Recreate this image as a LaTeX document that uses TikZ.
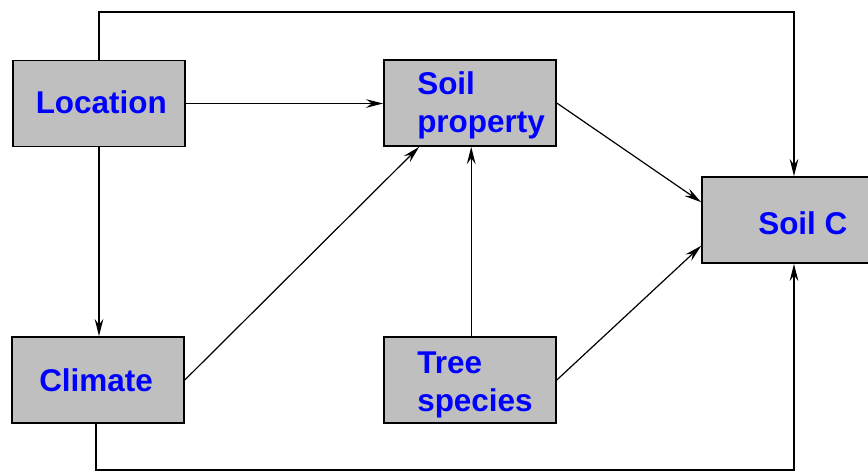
\documentclass[tikz,border=0pt]{standalone}
\usepackage{fontspec}
\setmainfont{Liberation Sans}
\usetikzlibrary{arrows.meta,calc}
\definecolor{boxgray}{gray}{0.75}
\begin{document}
\begin{tikzpicture}[x=0.75pt,y=-0.75pt,
  boxnode/.style={draw=black,fill=boxgray,line width=1.2pt,minimum width=129pt,minimum height=64.5pt,inner sep=0pt},
  lbl/.style={text=blue,font=\fontsize{23.6}{28}\selectfont\bfseries,inner sep=0pt,anchor=base west},
  arr/.style={line width=0.9pt,-{Stealth[length=13pt,width=6.5pt,inset=4.5pt]}},
  ln/.style={line width=0.9pt}]
\useasboundingbox (0,0) rectangle (868,472);
% boxes
\node[boxnode] (lo) at (99,103.5) {};
\node[boxnode] (sp) at (470,103) {};
\node[boxnode] (sc) at (788,220) {};
\node[boxnode] (cl) at (98,380) {};
\node[boxnode] (ts) at (470,380) {};
% labels
\node[lbl] (tlo) at (35.5,113.3) {Location};
\node[lbl] (tsp1) at (417,94.3) {Soil};
\node[lbl] (tsp2) at (417,132) {property};
\node[lbl] (tsc) at (758,234) {Soil C};
\node[lbl] (tcl) at (39,391) {Climate};
\node[lbl] (tts1) at (417,373.3) {Tree};
\node[lbl] (tts2) at (417,411.7) {species};
% helper coordinates
\coordinate (t1) at (99,12);
\coordinate (t2) at (794,12);
\coordinate (b1) at (96,470);
\coordinate (b2) at (794,470);
\coordinate (spb1) at ($(sp.south west)+(36,0)$);
\coordinate (spb2) at ($(sp.south west)+(88,0)$);
\coordinate (sci1) at ($(sc.north west)+(0,26)$);
\coordinate (sci2) at ($(sc.south west)+(0,-18)$);
% connectors
\draw[arr] (lo.east) -- (lo.east -| sp.west);
\draw[arr] (lo.south) -- (cl.north -| lo.south);
\draw[arr] (sp.east) -- (sci1);
\draw[arr] (cl.east) -- (spb1);
\draw[arr] (ts.north -| spb2) -- (spb2);
\draw[arr] (ts.east) -- (sci2);
\draw[arr] (lo.north) -- (t1) -- (t2) -- (sc.north -| t2);
\draw[arr] (cl.south -| b1) -- (b1) -- (b2) -- (sc.south -| b2);
\end{tikzpicture}
\end{document}
